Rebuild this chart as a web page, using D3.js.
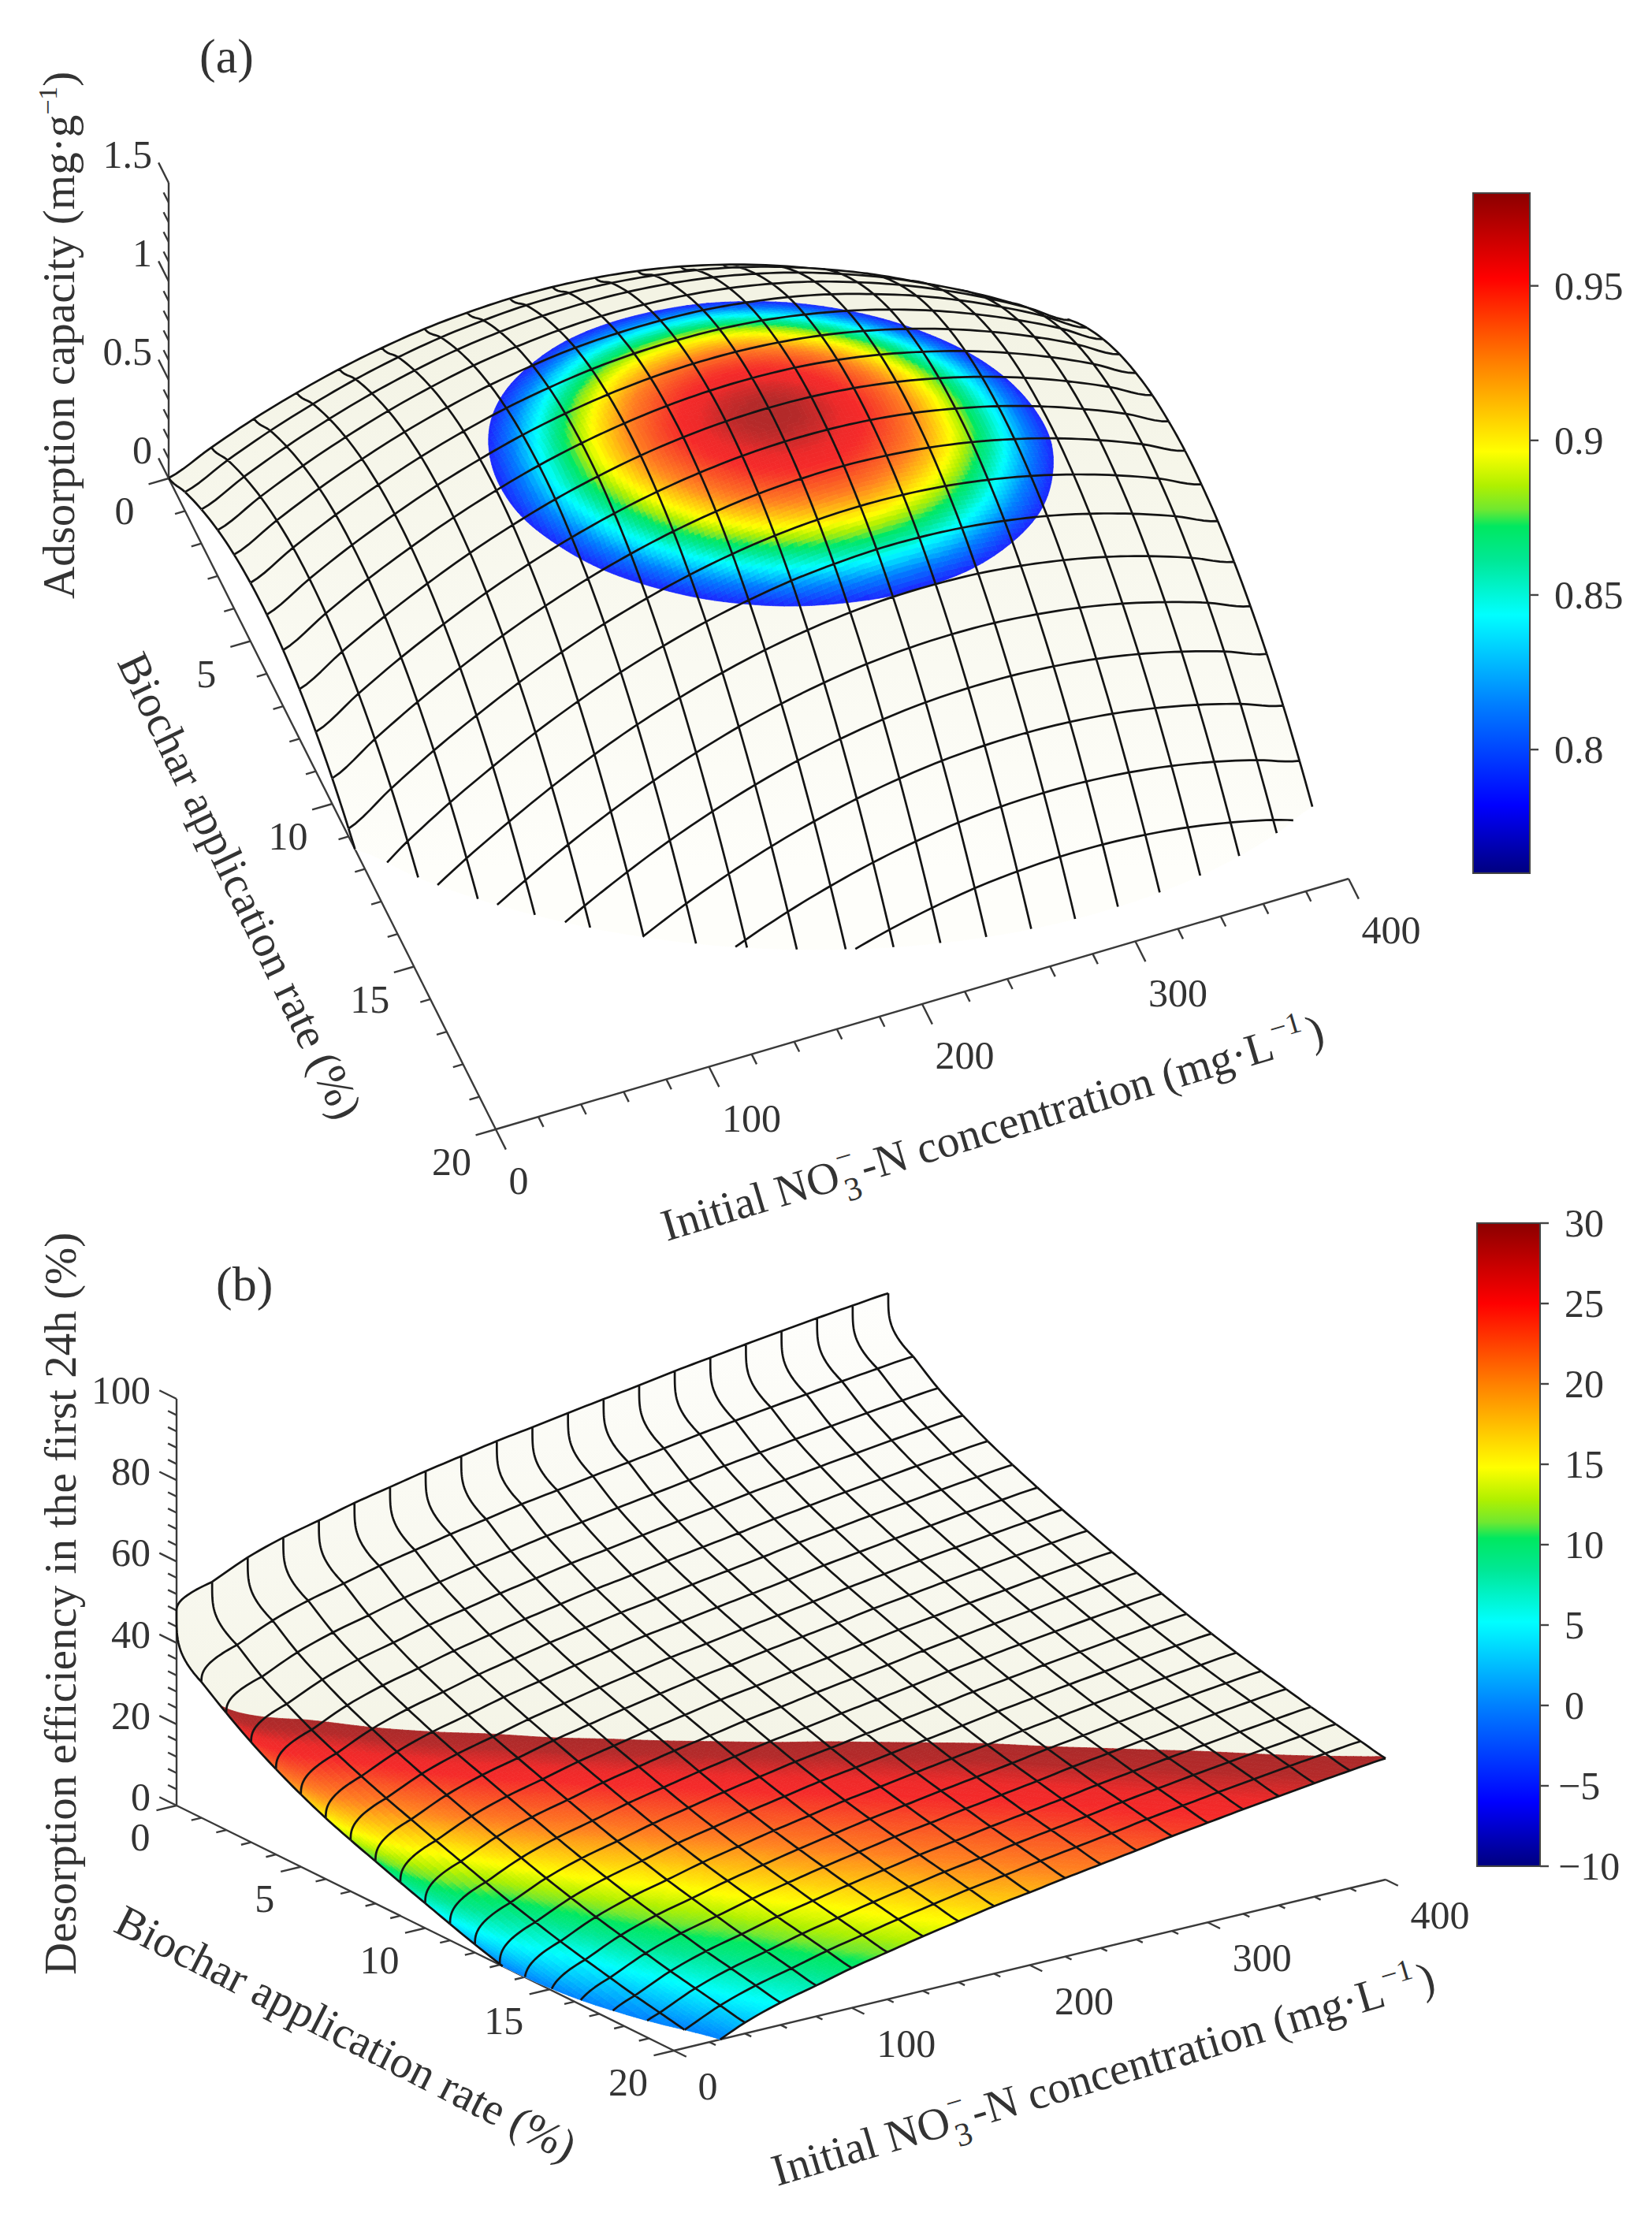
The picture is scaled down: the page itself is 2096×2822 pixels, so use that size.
<!DOCTYPE html>
<html>
<head>
<meta charset="utf-8">
<script src="https://cdnjs.cloudflare.com/ajax/libs/d3/7.8.5/d3.min.js"></script>
<style>
  html, body { margin: 0; background: #fff; }
  text { font-family: "Liberation Serif", serif; fill: #333; }
</style>
</head>
<body>
<script>
// x: initial NO3-N (step 20), y: biochar rate (step 1), one row per y
var concentration = d3.range(0, 401, 20);
var biochar = d3.range(0, 21, 1);

// adsorption capacity, below 0 is cut by the floor
var adsorption = [
  [.002,.093,.175,.243,.300,.344,.377,.396,.404,.399,.382,.353,.312,.258,.192,.113,.023,-.080,-.195,-.322,-.462],
  [.096,.194,.280,.352,.414,.462,.499,.522,.535,.534,.521,.496,.459,.410,.348,.273,.187,.088,-.022,-.145,-.281],
  [.173,.275,.365,.442,.507,.560,.602,.629,.646,.649,.641,.620,.588,.542,.485,.414,.333,.238,.132,.013,-.118],
  [.233,.339,.433,.514,.584,.641,.687,.718,.739,.747,.742,.726,.698,.657,.604,.537,.460,.370,.268,.153,.026],
  [.274,.384,.483,.568,.642,.703,.753,.789,.815,.826,.826,.815,.790,.754,.705,.642,.570,.484,.386,.276,.153],
  [.296,.411,.514,.603,.682,.747,.801,.841,.871,.887,.891,.884,.864,.831,.786,.729,.660,.578,.485,.379,.260],
  [.300,.418,.526,.619,.702,.771,.830,.875,.908,.929,.937,.934,.918,.890,.849,.796,.731,.654,.565,.463,.349],
  [.285,.408,.520,.617,.704,.778,.841,.890,.927,.952,.965,.966,.955,.931,.894,.845,.785,.712,.627,.529,.419],
  [.252,.379,.495,.597,.689,.767,.834,.887,.929,.958,.975,.980,.973,.953,.921,.876,.820,.751,.670,.577,.472],
  [.200,.331,.451,.557,.653,.735,.806,.864,.910,.943,.965,.974,.971,.956,.928,.887,.836,.771,.694,.606,.504],
  [.130,.265,.390,.500,.600,.687,.762,.824,.874,.912,.938,.951,.953,.941,.918,.882,.834,.774,.701,.617,.520],
  [.040,.180,.309,.423,.527,.618,.698,.764,.819,.861,.891,.908,.914,.907,.888,.856,.812,.756,.688,.608,.515],
  [-.067,.077,.211,.329,.438,.533,.617,.687,.746,.792,.827,.848,.859,.856,.841,.813,.774,.722,.658,.582,.494],
  [-.193,-.045,.092,.215,.328,.428,.516,.590,.653,.704,.742,.768,.783,.784,.774,.750,.715,.668,.608,.536,.452],
  [-.338,-.186,-.044,.083,.200,.304,.396,.475,.543,.597,.640,.671,.689,.695,.689,.669,.639,.596,.540,.473,.392],
  [-.501,-.344,-.198,-.067,.054,.162,.259,.342,.414,.473,.520,.555,.578,.587,.585,.570,.544,.505,.454,.391,.315],
  [-.682,-.521,-.371,-.235,-.110,.002,.103,.191,.267,.330,.381,.420,.447,.461,.463,.453,.431,.396,.349,.290,.218],
  [-.883,-.718,-.563,-.423,-.294,-.177,-.072,.020,.100,.167,.223,.266,.298,.316,.322,.316,.298,.268,.225,.170,.103],
  [-1.102,-.933,-.774,-.629,-.495,-.375,-.265,-.169,-.085,-.013,.047,.094,.130,.152,.163,.161,.147,.121,.082,.032,-.030],
  [-1.338,-1.165,-1.002,-.853,-.715,-.590,-.476,-.376,-.288,-.212,-.148,-.096,-.056,-.029,-.014,-.012,-.021,-.043,-.077,-.123,-.182],
  [-1.595,-1.417,-1.250,-1.096,-.954,-.825,-.707,-.603,-.509,-.429,-.361,-.305,-.261,-.230,-.211,-.204,-.209,-.227,-.257,-.299,-.353]
];

// desorption efficiency
var desorption = [
  [47.7,52.9,56.8,59.6,61.7,63.9,65.7,67.5,69.1,70.7,72.0,73.4,74.7,76.0,77.4,78.6,79.8,80.9,82.0,83.0,83.9],
  [33.4,40.4,44.3,47.1,49.2,51.4,53.2,55.0,56.6,58.2,59.5,60.9,62.2,63.5,64.9,66.1,67.3,68.4,69.5,70.5,71.4],
  [28.8,35.6,39.5,42.3,44.4,46.6,48.4,50.2,51.8,53.4,54.7,56.1,57.4,58.7,60.1,61.3,62.5,63.6,64.7,65.7,66.6],
  [24.6,31.9,35.8,38.6,40.7,42.9,44.7,46.5,48.1,49.7,51.0,52.4,53.7,55.0,56.4,57.6,58.8,59.9,61.0,62.0,62.9],
  [21.0,28.6,32.5,35.3,37.4,39.6,41.4,43.2,44.8,46.4,47.7,49.1,50.4,51.7,53.1,54.3,55.5,56.6,57.7,58.7,59.6],
  [17.8,25.8,29.7,32.5,34.6,36.8,38.6,40.4,42.0,43.6,44.9,46.3,47.6,48.9,50.3,51.5,52.7,53.8,54.9,55.9,56.8],
  [15.0,23.2,27.1,29.9,32.0,34.2,36.0,37.8,39.4,41.0,42.3,43.7,45.0,46.3,47.7,48.9,50.1,51.2,52.3,53.3,54.2],
  [12.6,20.8,24.7,27.5,29.6,31.8,33.6,35.4,37.0,38.6,39.9,41.3,42.6,43.9,45.3,46.5,47.7,48.8,49.9,50.9,51.8],
  [10.4,18.6,22.5,25.3,27.4,29.6,31.4,33.2,34.8,36.4,37.7,39.1,40.4,41.7,43.1,44.3,45.5,46.6,47.7,48.7,49.6],
  [8.2,16.4,20.3,23.1,25.2,27.4,29.2,31.0,32.6,34.2,35.5,36.9,38.2,39.5,40.9,42.1,43.3,44.4,45.5,46.5,47.4],
  [6.1,14.3,18.2,21.0,23.1,25.3,27.1,28.9,30.5,32.1,33.4,34.8,36.1,37.4,38.8,40.0,41.2,42.3,43.4,44.4,45.3],
  [4.0,12.2,16.1,18.9,21.0,23.2,25.0,26.8,28.4,30.0,31.3,32.7,34.0,35.3,36.7,37.9,39.1,40.2,41.3,42.3,43.2],
  [2.0,10.2,14.1,16.9,19.0,21.2,23.0,24.8,26.4,28.0,29.3,30.7,32.0,33.3,34.7,35.9,37.1,38.2,39.3,40.3,41.2],
  [.2,8.4,12.3,15.1,17.2,19.4,21.2,23.0,24.6,26.2,27.5,28.9,30.2,31.5,32.9,34.1,35.3,36.4,37.5,38.5,39.4],
  [-1.5,6.7,10.6,13.4,15.5,17.7,19.5,21.3,22.9,24.5,25.8,27.2,28.5,29.8,31.2,32.4,33.6,34.7,35.8,36.8,37.7],
  [-3.0,5.2,9.1,11.9,14.0,16.2,18.0,19.8,21.4,23.0,24.3,25.7,27.0,28.3,29.7,30.9,32.1,33.2,34.3,35.3,36.2],
  [-4.4,3.8,7.7,10.5,12.6,14.8,16.6,18.4,20.0,21.6,22.9,24.3,25.6,26.9,28.3,29.5,30.7,31.8,32.9,33.9,34.8],
  [-5.8,2.4,6.3,9.1,11.2,13.4,15.2,17.0,18.6,20.2,21.5,22.9,24.2,25.5,26.9,28.1,29.3,30.4,31.5,32.5,33.4],
  [-7.0,1.2,5.1,7.9,10.0,12.2,14.0,15.8,17.4,19.0,20.3,21.7,23.0,24.3,25.7,26.9,28.1,29.2,30.3,31.3,32.2],
  [-8.2,0,3.9,6.7,8.8,11.0,12.8,14.6,16.2,17.8,19.1,20.5,21.8,23.1,24.5,25.7,26.9,28.0,29.1,30.1,31.0],
  [-9.4,-1.2,2.7,5.5,7.6,9.8,11.6,13.4,15.0,16.6,17.9,19.3,20.6,21.9,23.3,24.5,25.7,26.8,27.9,28.9,29.8]
];

var xTicks = [0, 100, 200, 300, 400];
var yTicks = [0, 5, 10, 15, 20];
var zTicksA = [0, 0.5, 1, 1.5];
var zTicksB = [0, 20, 40, 60, 80, 100];
var barTicksA = [0.8, 0.85, 0.9, 0.95];
var barTicksB = [-10, -5, 0, 5, 10, 15, 20, 25, 30];

// colour ramps, bar and surface differ only in how the reds render
var rampAt = [0, .1, .25, .38, .46, .51, .535, .57, .62, .75, .875, 1];
var barRamp = d3.scaleLinear().domain(rampAt).range(['#00007f', '#0000ff', '#0080ff', '#00ffff', '#00e896', '#00e860', '#70e830', '#b0f000', '#ffff00', '#ff8000', '#ff0000', '#8b0000']);
var surfRamp = d3.scaleLinear().domain([0, .1, .25, .38, .46, .51, .535, .57, .62, .75, .875, .91, .96, 1]).range(['#00007f', '#1e1eff', '#0080ff', '#00ffff', '#00e896', '#00e860', '#70e830', '#b0f000', '#ffff00', '#ff8020', '#f52a2a', '#ee2a2a', '#b42a2a', '#aa2a2a']);

var svg = d3.select('body').append('svg').attr('width', 2096).attr('height', 2822);
var defs = svg.append('defs');

var panels = [{
  id: 'a', values: adsorption, steep: false,
  origin: [214, 607], xEnd: [1082, -318], yEnd: [415, 826], zEnd: [0, -375], zMax: 1.5,
  colorMin: 0.785, colorMax: Infinity, barDomain: [0.76, 0.98], shadeDomain: [0.76, 0.988],
  zTicks: zTicksA, zMinor: 0.1, xTickOut: 0.62, yTickOut: 9.4, zTickOut: 0.62,
  baseTop: [400, '#f3f3e4'], baseBottom: [1100, '#fefefa'],
  bar: { x: 1869, y: 245, w: 72, h: 863, ticks: barTicksA, labelX: 1972 }
}, {
  id: 'b', values: desorption, steep: true,
  origin: [224, 2291], xEnd: [903, -217], yEnd: [631, 311], zEnd: [0, -516], zMax: 100,
  colorMin: -Infinity, colorMax: 29.9, barDomain: [-10, 30], shadeDomain: [-10, 30],
  zTicks: zTicksB, zMinor: 4, xTickOut: 0.5, yTickOut: 11.3, zTickOut: 0.69,
  baseTop: [1650, '#fefefc'], baseBottom: [2230, '#f4f4e6'],
  bar: { x: 1874, y: 1552, w: 80, h: 816, ticks: barTicksB, labelX: 1985 }
}];

function catmull(p0, p1, p2, p3, t) {
  return 0.5 * (2 * p1 + (p2 - p0) * t + (2 * p0 - 5 * p1 + 4 * p2 - p3) * t * t + (3 * p1 - p0 - 3 * p2 + p3) * t * t * t);
}

// height between the read nodes, for drawing only. Panel b rises almost
// vertically out of its first row and column, so those cells get a power curve
function heightAt(p, i, j) {
  var m = p.values, n = m.length - 1;
  var i0 = Math.min(Math.floor(i), n - 1), j0 = Math.min(Math.floor(j), n - 1);
  var rowAt = function(r) {
    var row = m[r];
    if (p.steep && i < 1) return row[0] + (row[1] - row[0]) * Math.pow(i, 0.36);
    var at = function(c) { return row[Math.max(0, Math.min(n, c))]; };
    var before = (p.steep && i0 === 1) ? 2 * row[1] - row[2] : at(i0 - 1);
    return catmull(before, at(i0), at(i0 + 1), at(i0 + 2), i - i0);
  };
  if (p.steep && j < 1) return rowAt(0) + (rowAt(1) - rowAt(0)) * Math.pow(j, 0.25);
  var r1 = rowAt(j0), r2 = rowAt(j0 + 1), r3 = rowAt(Math.min(n, j0 + 2));
  var r0 = (p.steep && j0 === 1) ? 2 * r1 - r2 : rowAt(Math.max(0, j0 - 1));
  return catmull(r0, r1, r2, r3, j - j0);
}

function cuts(n, steep) {
  return d3.range(0, n + 1).map(function(k) { return steep ? Math.pow(k / n, 3) : k / n; });
}

// keep the part of a small quad where keep*(z-level) >= 0
function clipPoly(poly, level, keep) {
  var out = [];
  poly.forEach(function(a, k) {
    var b = poly[(k + 1) % poly.length];
    var da = keep * (a.z - level), db = keep * (b.z - level);
    if (da >= 0) out.push(a);
    if ((da >= 0) !== (db >= 0)) {
      var t = da / (da - db);
      out.push({ i: a.i + (b.i - a.i) * t, j: a.j + (b.j - a.j) * t, z: level });
    }
  });
  return out;
}

function drawPanel(p) {
  var xs = d3.scaleLinear().domain([0, 400]).range([0, 1]);
  var ys = d3.scaleLinear().domain([0, 20]).range([0, 1]);
  var zs = d3.scaleLinear().domain([0, p.zMax]).range([0, 1]);
  var project = function(x, y, z) {
    return [p.origin[0] + xs(x) * p.xEnd[0] + ys(y) * p.yEnd[0] + zs(z) * p.zEnd[0],
            p.origin[1] + xs(x) * p.xEnd[1] + ys(y) * p.yEnd[1] + zs(z) * p.zEnd[1]];
  };
  var nodeXY = function(n) {
    return project(concentration[0] + n.i * 20, biochar[0] + n.j, n.z);
  };
  var m = p.values;
  var node = function(i, j) { return { i: i, j: j, z: heightAt(p, i, j) }; };
  var colorOf = d3.scaleLinear().domain(p.shadeDomain).range([0, 1]).clamp(true);
  var line = d3.line();
  var polyD = function(poly) { return line(poly.map(nodeXY)) + 'Z'; };
  var quad = function(i, j, ci, cj, a, b) {
    return [node(i + ci[a], j + cj[b]), node(i + ci[a + 1], j + cj[b]),
            node(i + ci[a + 1], j + cj[b + 1]), node(i + ci[a], j + cj[b + 1])];
  };

  defs.append('linearGradient').attr('id', 'base' + p.id)
    .attr('gradientUnits', 'userSpaceOnUse')
    .attr('x1', 0).attr('x2', 0).attr('y1', p.baseTop[0]).attr('y2', p.baseBottom[0])
    .selectAll('stop').data([p.baseTop, p.baseBottom]).enter().append('stop')
    .attr('offset', function(d, k) { return k; })
    .attr('stop-color', function(d) { return d[1]; });

  // axes first, the surface goes in front
  var axes = svg.append('g').attr('class', 'axes').attr('stroke', '#3a3a3a').attr('stroke-width', 2.4).attr('fill', 'none');
  var seg = function(a, b) { return line([a, b]); };
  axes.append('path').attr('d', seg(project(0, 0, 0), project(0, 20, 0)));
  axes.append('path').attr('d', seg(project(0, 20, 0), project(400, 20, 0)));
  axes.append('path').attr('d', seg(project(0, 0, 0), project(0, 0, p.zMax)));
  axes.selectAll('.ty').data(biochar).enter().append('path').attr('d', function(d) {
    return seg(project(0, d, 0), project(d % 5 ? -p.yTickOut / 2 : -p.yTickOut, d, 0));
  });
  axes.selectAll('.tx').data(concentration).enter().append('path').attr('d', function(d) {
    return seg(project(d, 20, 0), project(d, d % 100 ? 20 + p.xTickOut / 2 : 20 + p.xTickOut, 0));
  });
  axes.selectAll('.tz').data(d3.range(0, p.zMax + p.zMinor / 2, p.zMinor)).enter().append('path').attr('d', function(d, k) {
    return seg(project(0, 0, d), project(0, k % 5 ? -p.zTickOut / 2 : -p.zTickOut, d));
  });

  var surface = svg.append('g').attr('class', 'surface');
  var grid = d3.range(0, m.length);
  var drawLine = function(g, pts) {
    // split where the surface drops under the floor
    var run = [], runs = [run];
    pts.forEach(function(n, k) {
      var prev = pts[k - 1];
      if (prev && (prev.z >= 0) !== (n.z >= 0)) {
        var t = prev.z / (prev.z - n.z);
        run.push({ i: prev.i + (n.i - prev.i) * t, j: prev.j + (n.j - prev.j) * t, z: 0 });
        if (n.z < 0) { run = []; runs.push(run); }
      }
      if (n.z >= 0) run.push(n);
    });
    runs.forEach(function(r) {
      if (r.length > 1) g.push(line(r.map(nodeXY)));
    });
  };

  grid.forEach(function(j) {
    var row = surface.append('g').attr('class', 'row');
    var lines = [];
    var firstRow = p.steep && j === 0;
    if (j < m.length - 1) {
      var base = [], buckets = new Map();
      grid.slice(0, -1).reverse().forEach(function(i) {
        var corners = [m[j][i], m[j][i + 1], m[j + 1][i], m[j + 1][i + 1]];
        if (d3.max(corners) < -0.15 * (p.zMax / 1.5)) return;
        var firstCol = p.steep && i === 0;
        var ci = firstCol ? cuts(10, true) : cuts(4), cj = firstRow ? cuts(10, true) : cuts(4);
        var a, b, q;
        for (a = 0; a < ci.length - 1; a++) {
          for (b = 0; b < cj.length - 1; b++) {
            q = clipPoly(quad(i, j, ci, cj, a, b), 0, 1);
            if (q.length > 2) base.push(polyD(q));
          }
        }
        // finer quads for the colored part of the surface
        var colored = d3.max(corners) > p.colorMin - Math.abs(p.colorMin) * 0.02 && d3.min(corners) < p.colorMax + 1;
        if (!colored) return;
        ci = firstCol ? cuts(14, true) : cuts(10);
        cj = firstRow ? cuts(14, true) : cuts(10);
        for (a = 0; a < ci.length - 1; a++) {
          for (b = 0; b < cj.length - 1; b++) {
            q = clipPoly(quad(i, j, ci, cj, a, b), 0, 1);
            if (isFinite(p.colorMin) && q.length > 2) q = clipPoly(q, p.colorMin, 1);
            if (isFinite(p.colorMax) && q.length > 2) q = clipPoly(q, p.colorMax, -1);
            if (q.length < 3) continue;
            var level = Math.round(colorOf(d3.mean(q, function(n) { return n.z; })) * 220) / 220;
            if (!buckets.has(level)) buckets.set(level, []);
            buckets.get(level).push(polyD(q));
          }
        }
      });
      row.append('path').attr('d', base.join(''))
        .attr('fill', 'url(#base' + p.id + ')').attr('stroke', 'url(#base' + p.id + ')').attr('stroke-width', 0.8);
      row.selectAll('.patch').data(Array.from(buckets)).enter().append('path')
        .attr('d', function(d) { return d[1].join(''); })
        .attr('fill', function(d) { return surfRamp(d[0]); })
        .attr('stroke', function(d) { return surfRamp(d[0]); })
        .attr('stroke-width', 0.7);
      // mesh segments running towards the viewer in this row
      grid.forEach(function(i) {
        var fr = firstRow ? cuts(24, true) : cuts(6);
        drawLine(lines, fr.map(function(s) { return node(i, j + s); }));
      });
    }
    // mesh line of constant biochar rate
    var along = [];
    grid.slice(0, -1).forEach(function(i) {
      var fr = (p.steep && i === 0) ? cuts(24, true) : cuts(6);
      fr.slice(0, -1).forEach(function(s) { along.push(node(i + s, j)); });
    });
    along.push(node(m.length - 1, j));
    drawLine(lines, along);
    row.append('path').attr('d', lines.join(''))
      .attr('fill', 'none').attr('stroke', '#141414').attr('stroke-width', 2.7).attr('stroke-linejoin', 'round');
  });

  drawBar(p);
}

function drawBar(p) {
  var b = p.bar;
  var g = svg.append('g').attr('class', 'colorbar');
  var y = d3.scaleLinear().domain(p.barDomain).range([b.y + b.h, b.y]);
  var grad = defs.append('linearGradient').attr('id', 'bar' + p.id)
    .attr('x1', 0).attr('x2', 0).attr('y1', 1).attr('y2', 0);
  grad.selectAll('stop').data(rampAt).enter().append('stop')
    .attr('offset', function(d) { return d; })
    .attr('stop-color', function(d) { return barRamp(d); });
  g.append('rect').attr('x', b.x).attr('y', b.y).attr('width', b.w).attr('height', b.h)
    .attr('fill', 'url(#bar' + p.id + ')').attr('stroke', '#444').attr('stroke-width', 2);
  g.selectAll('.tick').data(b.ticks).enter().append('line')
    .attr('x1', b.x + b.w).attr('x2', b.x + b.w + 11)
    .attr('y1', y).attr('y2', y)
    .attr('stroke', '#444').attr('stroke-width', 2.4);
  g.selectAll('.lab').data(b.ticks).enter().append('text')
    .attr('x', function(d) { return d < 0 ? b.labelX - 8 : b.labelX; })
    .attr('y', function(d) { return y(d) + 17; })
    .attr('font-size', 50)
    .text(function(d) { return String(d).replace('-', '\u2212'); });
}

panels.forEach(drawPanel);

// tick labels, offsets from the tick foot on each axis
function tickLabels(ticks, pos, dx, dy, anchor) {
  svg.append('g').selectAll('text').data(ticks).enter().append('text')
    .attr('text-anchor', anchor)
    .attr('font-size', 50)
    .attr('x', function(d) { return pos(d)[0] + (typeof dx === 'function' ? dx(d) : dx); })
    .attr('y', function(d) { return pos(d)[1] + (typeof dy === 'function' ? dy(d) : dy); })
    .text(function(d) { return d; });
}

var zA = d3.scaleLinear().domain([0, 1.5]).range([607, 232]);
var zB = d3.scaleLinear().domain([0, 100]).range([2291, 1775]);
var yA = d3.scaleLinear().domain([0, 20]).range([0, 1]);
var xA = d3.scaleLinear().domain([0, 400]).range([0, 1]);

tickLabels(zTicksA, function(d) { return [193, zA(d)]; }, 0, -19, 'end');
tickLabels(yTicks, function(d) { return [214 + yA(d) * 415, 607 + yA(d) * 826]; }, -56, 58, 'middle');
tickLabels(xTicks, function(d) { return [629 + xA(d) * 1082, 1433 - xA(d) * 318]; }, function(d) { return d ? 54 : 29; }, 82, 'middle');
tickLabels(zTicksB, function(d) { return [191, zB(d)]; }, 0, 6, 'end');
tickLabels(yTicks, function(d) { return [224 + yA(d) * 631, 2291 + yA(d) * 311]; }, function(d) { return d < 10 ? -46 : -58; }, 57, 'middle');
tickLabels(xTicks, function(d) { return [855 + xA(d) * 903, 2602 - xA(d) * 217]; }, function(d) { return d ? 69 : 43; }, 62, 'middle');

// axis titles are rotated text with raised and lowered pieces
function title(x, y, angle, parts) {
  var t = svg.append('text')
    .attr('transform', 'translate(' + x + ',' + y + ') rotate(' + angle + ')')
    .attr('font-size', 57);
  parts.forEach(function(part) {
    var s = t.append('tspan').text(part.text);
    if (part.size) s.attr('font-size', part.size);
    if (part.dx) s.attr('dx', part.dx);
    if (part.dy) s.attr('dy', part.dy);
  });
}

function no3Title() {
  return [
    { text: 'Initial NO' },
    { text: '\u2212', size: 38, dy: -26, dx: 2 },
    { text: '3', size: 42, dy: 44, dx: -21 },
    { text: '-N concentration (mg\u00b7L', dy: -18, dx: 7 },
    { text: '\u22121', size: 38, dy: -24, dx: 2 },
    { text: ')', dy: 24, dx: 5 }
  ];
}

title(94, 760, -90, [
  { text: 'Adsorption capacity (mg\u00b7g' },
  { text: '\u22121', size: 34, dy: -22 },
  { text: ')', dy: 22 }
]);
title(148, 840, 64.5, [{ text: 'Biochar application rate (%)' }]);
title(846, 1575, -16.7, no3Title());
title(96, 2506, -90, [{ text: 'Desorption efficiency in the first 24h (%)' }]);
title(142, 2450, 27, [{ text: 'Biochar application rate (%)' }]);
title(986, 2774, -16.5, no3Title());

svg.append('text').attr('x', 253).attr('y', 92).attr('font-size', 62).text('(a)');
svg.append('text').attr('x', 274).attr('y', 1650).attr('font-size', 62).text('(b)');
</script>
</body>
</html>
